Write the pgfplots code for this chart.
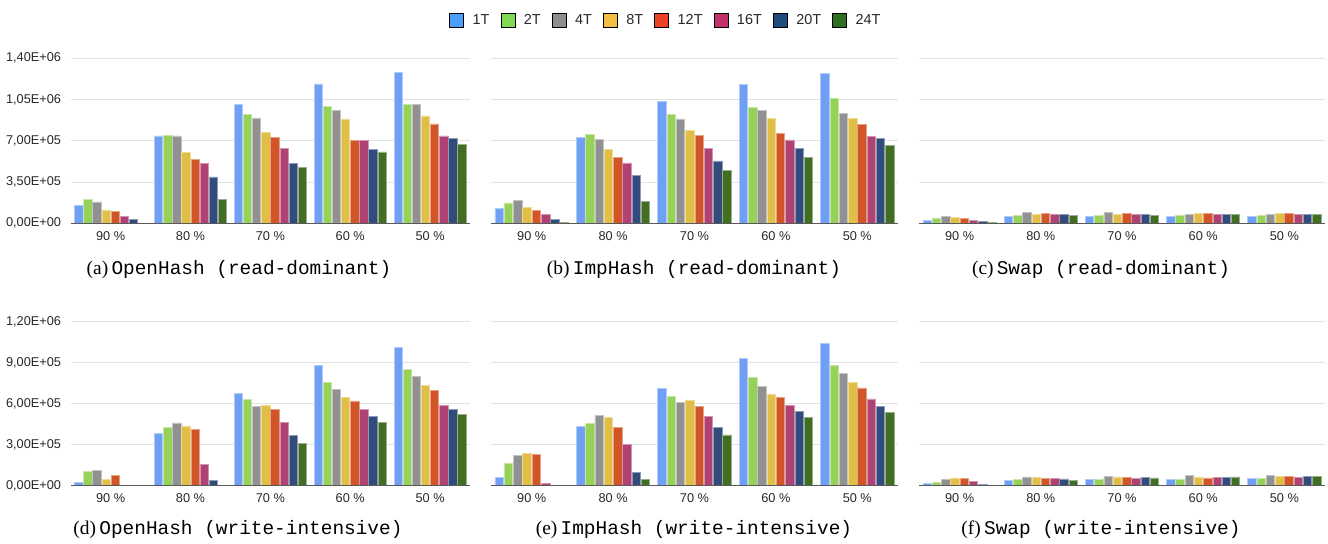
\documentclass[border=0pt]{standalone}
\usepackage{pgfplots}
\pgfplotsset{compat=1.18}
\usepackage{pgfplotstable}
\usepackage{fontspec}
\setmainfont{Liberation Sans}
\newfontfamily\capserif{Liberation Serif}
\newfontfamily\capmono{Liberation Mono}

% bar colours
\definecolor{c1}{RGB}{112,160,245}
\definecolor{c2}{RGB}{150,210,90}
\definecolor{c3}{RGB}{145,145,145}
\definecolor{c4}{RGB}{225,190,70}
\definecolor{c5}{RGB}{210,85,40}
\definecolor{c6}{RGB}{175,65,115}
\definecolor{c7}{RGB}{50,75,125}
\definecolor{c8}{RGB}{65,110,35}
% legend swatch colours
\definecolor{l1}{RGB}{74,158,250}
\definecolor{l2}{RGB}{128,216,85}
\definecolor{l3}{RGB}{142,142,142}
\definecolor{l4}{RGB}{240,190,65}
\definecolor{l5}{RGB}{235,65,38}
\definecolor{l6}{RGB}{195,48,110}
\definecolor{l7}{RGB}{31,75,125}
\definecolor{l8}{RGB}{47,110,30}
\definecolor{ticktext}{RGB}{40,40,40}

% throughput per fill ratio; columns = thread counts
\pgfplotstableread{
x t1 t2 t4 t8 t12 t16 t20 t24
0 150000 206000 181000 113000 99000 59000 34000 0
1 741000 749000 741000 602000 540000 509000 393000 206000
2 1012000 922000 894000 772000 727000 636000 509000 475000
3 1182000 990000 959000 885000 704000 701000 628000 605000
4 1281000 1012000 1012000 911000 843000 741000 718000 667000
}\openread
\pgfplotstableread{
x t1 t2 t4 t8 t12 t16 t20 t24
0 125000 173000 192000 134000 109000 75000 36000 6000
1 732000 754000 710000 626000 557000 512000 404000 186000
2 1035000 921000 885000 790000 743000 637000 529000 451000
3 1177000 985000 960000 893000 763000 707000 632000 559000
4 1275000 1063000 935000 888000 838000 735000 721000 660000
}\impread
\pgfplotstableread{
x t1 t2 t4 t8 t12 t16 t20 t24
0 25000 45000 61000 53000 42000 28000 19000 8000
1 61000 67000 89000 78000 81000 78000 78000 70000
2 61000 67000 89000 78000 81000 78000 78000 70000
3 61000 64000 78000 83000 83000 78000 75000 75000
4 58000 67000 78000 81000 83000 75000 75000 75000
}\swapread
\pgfplotstableread{
x t1 t2 t4 t8 t12 t16 t20 t24
0 27000 102000 112000 46000 78000 0 0 0
1 385000 429000 459000 437000 410000 154000 39000 0
2 673000 632000 583000 585000 559000 463000 366000 312000
3 878000 756000 705000 649000 620000 561000 507000 466000
4 1010000 851000 798000 732000 698000 588000 559000 522000
}\openwrite
\pgfplotstableread{
x t1 t2 t4 t8 t12 t16 t20 t24
0 62000 162000 222000 239000 229000 19000 0 0
1 434000 453000 513000 501000 427000 301000 98000 43000
2 711000 656000 611000 625000 582000 508000 427000 372000
3 930000 790000 728000 670000 644000 587000 544000 501000
4 1040000 878000 823000 756000 716000 635000 580000 534000
}\impwrite
\pgfplotstableread{
x t1 t2 t4 t8 t12 t16 t20 t24
0 17000 24000 48000 57000 55000 31000 10000 0
1 36000 45000 64000 64000 55000 55000 50000 38000
2 43000 48000 71000 64000 62000 55000 62000 57000
3 48000 43000 74000 64000 57000 62000 62000 64000
4 52000 52000 74000 71000 67000 62000 71000 71000
}\swapwrite

\pgfplotsset{
  panel/.style={
    scale only axis, anchor=south west,
    xmin=-0.5, xmax=4.5, ymin=0,
    scaled y ticks=false,
    axis line style={draw=none},
    major tick length=0pt,
    xtick={0,1,2,3,4},
    xticklabels={90 \%,80 \%,70 \%,60 \%,50 \%},
    ymajorgrids,
    major grid style={draw=black!11, line width=0.9bp},
    tick label style={font=\fontsize{12.8}{14}\selectfont, text=ticktext},
    xticklabel style={inner sep=0pt, anchor=north, yshift=-8bp},
    yticklabel style={inner sep=0pt, anchor=east, xshift=-9.5bp},
    clip=false,
    after end axis/.code={
      \draw[black!65, line width=1.4bp] (rel axis cs:0,0) -- (rel axis cs:1,0);
    },
  },
  toprow/.style={panel, height=165bp, ymax=1400000,
    ytick={0,350000,700000,1050000,1400000}},
  botrow/.style={panel, height=164bp, ymax=1200000,
    ytick={0,300000,600000,900000,1200000}},
  barbase/.style={ybar, bar width=0.104, line width=0.7bp},
  s1/.style={barbase, fill=c1, draw=c1!55!white, bar shift=-0.399},
  s2/.style={barbase, fill=c2, draw=c2!55!white, bar shift=-0.285},
  s3/.style={barbase, fill=c3, draw=c3!55!white, bar shift=-0.171},
  s4/.style={barbase, fill=c4, draw=c4!55!white, bar shift=-0.057},
  s5/.style={barbase, fill=c5, draw=c5!55!white, bar shift=0.057},
  s6/.style={barbase, fill=c6, draw=c6!55!white, bar shift=0.171},
  s7/.style={barbase, fill=c7, draw=c7!55!white, bar shift=0.285},
  s8/.style={barbase, fill=c8, draw=c8!55!white, bar shift=0.399},
  swatch/.style={legend image code/.code={\fill[##1] (0bp,-7bp) rectangle (14bp,7bp);}},
}

\newcommand\allbars[1]{%
  \addplot[s1, forget plot] table[x=x, y=t1] {#1};
  \addplot[s2, forget plot] table[x=x, y=t2] {#1};
  \addplot[s3, forget plot] table[x=x, y=t4] {#1};
  \addplot[s4, forget plot] table[x=x, y=t8] {#1};
  \addplot[s5, forget plot] table[x=x, y=t12] {#1};
  \addplot[s6, forget plot] table[x=x, y=t16] {#1};
  \addplot[s7, forget plot] table[x=x, y=t20] {#1};
  \addplot[s8, forget plot] table[x=x, y=t24] {#1};
}

\newcommand\subcap[2]{{\capserif (#1)}\,{\capmono #2}}

\begin{document}
\begin{tikzpicture}
\useasboundingbox (0,0) rectangle (1328bp,-544bp);

% --- read-dominant workload ---
\begin{axis}[toprow, at={(70.7bp,-223.3bp)}, width=399.3bp,
  yticklabels={{0,00E+00},{3,50E+05},{7,00E+05},{1,05E+06},{1,40E+06}},
  legend columns=8,
  legend style={at={(1.488,1.232)}, anchor=center, draw=none, fill=none,
    font=\fontsize{14.5}{16}\selectfont, text=ticktext,
    /tikz/every odd column/.style={column sep=9bp},
    /tikz/every even column/.style={column sep=11bp},
    nodes={inner sep=0pt, anchor=west}},
]
\addlegendimage{swatch, fill=l1}\addlegendentry{1T}
\addlegendimage{swatch, fill=l2}\addlegendentry{2T}
\addlegendimage{swatch, fill=l3}\addlegendentry{4T}
\addlegendimage{swatch, fill=l4}\addlegendentry{8T}
\addlegendimage{swatch, fill=l5}\addlegendentry{12T}
\addlegendimage{swatch, fill=l6}\addlegendentry{16T}
\addlegendimage{swatch, fill=l7}\addlegendentry{20T}
\addlegendimage{swatch, fill=l8}\addlegendentry{24T}
\allbars{\openread}
\end{axis}

\begin{axis}[toprow, at={(491bp,-223.3bp)}, width=407bp, yticklabels={}]
\allbars{\impread}
\end{axis}

\begin{axis}[toprow, at={(919bp,-223.3bp)}, width=406bp, yticklabels={}]
\allbars{\swapread}
\end{axis}

% --- write-intensive workload ---
\begin{axis}[botrow, at={(70.7bp,-485.7bp)}, width=399.3bp,
  yticklabels={{0,00E+00},{3,00E+05},{6,00E+05},{9,00E+05},{1,20E+06}}]
\allbars{\openwrite}
\end{axis}

\begin{axis}[botrow, at={(491bp,-485.7bp)}, width=407bp, yticklabels={}]
\allbars{\impwrite}
\end{axis}

\begin{axis}[botrow, at={(919bp,-485.7bp)}, width=406bp, yticklabels={}]
\allbars{\swapwrite}
\end{axis}

% sub-figure captions
\begin{scope}[every node/.style={font=\fontsize{19.5}{22}\selectfont, text=black, inner sep=0pt}]
\node at (239bp,-270bp) {\subcap{a}{OpenHash (read-dominant)}};
\node at (694bp,-270bp) {\subcap{b}{ImpHash (read-dominant)}};
\node at (1101bp,-270bp) {\subcap{c}{Swap (read-dominant)}};
\node at (238bp,-530bp) {\subcap{d}{OpenHash (write-intensive)}};
\node at (694bp,-530bp) {\subcap{e}{ImpHash (write-intensive)}};
\node at (1101bp,-530bp) {\subcap{f}{Swap (write-intensive)}};
\end{scope}
\end{tikzpicture}
\end{document}
